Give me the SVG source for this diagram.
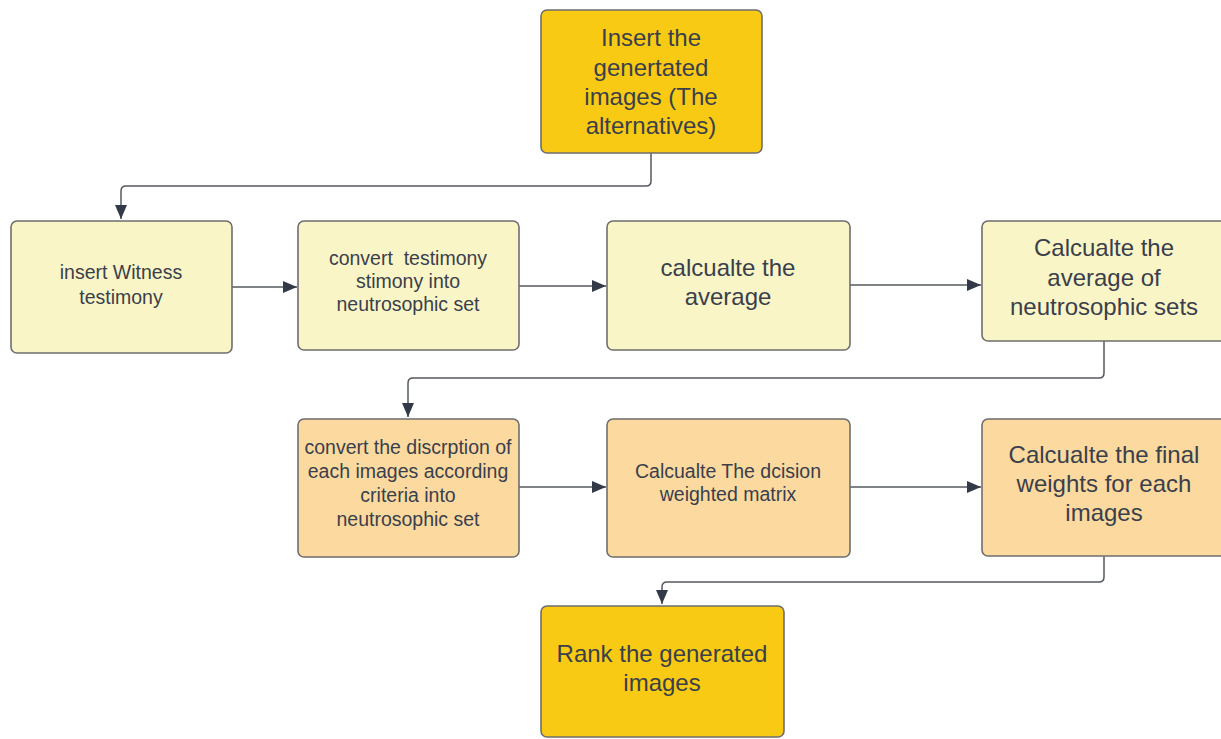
<svg xmlns="http://www.w3.org/2000/svg" width="1221" height="739" viewBox="0 0 1221 739">
<defs>
<marker id="arr" viewBox="0 0 14 12" refX="14" refY="6" markerWidth="14" markerHeight="12" markerUnits="userSpaceOnUse" orient="auto">
<path d="M0,0 L14,6 L0,12 Z" fill="#333a47"/>
</marker>
<style>
.box{stroke:#6e6e6e;stroke-width:1.6}
.gold{fill:#f9ca14}
.pale{fill:#faf5c6}
.orange{fill:#fcd99f}
.t{font-family:"Liberation Sans",Arial,sans-serif;fill:#3a3f4c;text-anchor:middle}
.s{font-size:19.5px}
.l{font-size:24px}
.c{fill:none;stroke:#55595f;stroke-width:1.5}
</style>
</defs>
<rect width="1221" height="739" fill="#ffffff"/>
<g id="connectors">
<path class="c" d="M651,153 V181 Q651,186 646,186 H126 Q121,186 121,191 V219" marker-end="url(#arr)"/>
<path class="c" d="M232,287 H297" marker-end="url(#arr)"/>
<path class="c" d="M519,286 H606" marker-end="url(#arr)"/>
<path class="c" d="M850,285 H981" marker-end="url(#arr)"/>
<path class="c" d="M1104,341 V373 Q1104,378 1099,378 H413 Q408,378 408,383 V417" marker-end="url(#arr)"/>
<path class="c" d="M519,487 H606" marker-end="url(#arr)"/>
<path class="c" d="M850,487 H981" marker-end="url(#arr)"/>
<path class="c" d="M1104,556 V577 Q1104,582 1099,582 H667 Q662,582 662,587 V604" marker-end="url(#arr)"/>
</g>
<g id="node-insert-images">
<rect class="box gold" x="541" y="10" width="221" height="143" rx="6"/>
<text class="t l" x="651" y="46">Insert the</text>
<text class="t l" x="651" y="76">genertated</text>
<text class="t l" x="651" y="105">images (The</text>
<text class="t l" x="651" y="134">alternatives)</text>
</g>
<g id="node-witness">
<rect class="box pale" x="11" y="221" width="221" height="132" rx="6"/>
<text class="t s" x="121" y="279">insert Witness</text>
<text class="t s" x="121" y="304">testimony</text>
</g>
<g id="node-convert-testimony">
<rect class="box pale" x="298" y="221" width="221" height="129" rx="6"/>
<text class="t s" x="408" y="265" xml:space="preserve">convert  testimony</text>
<text class="t s" x="408" y="288">stimony into</text>
<text class="t s" x="408" y="311">neutrosophic set</text>
</g>
<g id="node-average">
<rect class="box pale" x="607" y="221" width="243" height="129" rx="6"/>
<text class="t l" x="728" y="276">calcualte the</text>
<text class="t l" x="728" y="305">average</text>
</g>
<g id="node-average-ns">
<rect class="box pale" x="982" y="221" width="246" height="120" rx="6"/>
<text class="t l" x="1104" y="256">Calcualte the</text>
<text class="t l" x="1104" y="286">average of</text>
<text class="t l" x="1104" y="315">neutrosophic sets</text>
</g>
<g id="node-convert-description">
<rect class="box orange" x="298" y="419" width="221" height="138" rx="6"/>
<text class="t s" x="408" y="454">convert the discrption of</text>
<text class="t s" x="408" y="478">each images according</text>
<text class="t s" x="408" y="502">criteria into</text>
<text class="t s" x="408" y="526">neutrosophic set</text>
</g>
<g id="node-decision-matrix">
<rect class="box orange" x="607" y="419" width="243" height="138" rx="6"/>
<text class="t s" x="728" y="478">Calcualte The dcision</text>
<text class="t s" x="728" y="501">weighted matrix</text>
</g>
<g id="node-final-weights">
<rect class="box orange" x="982" y="419" width="246" height="137" rx="6"/>
<text class="t l" x="1104" y="463">Calcualte the final</text>
<text class="t l" x="1104" y="492">weights for each</text>
<text class="t l" x="1104" y="521">images</text>
</g>
<g id="node-rank">
<rect class="box gold" x="541" y="606" width="243" height="131" rx="6"/>
<text class="t l" x="662" y="662">Rank the generated</text>
<text class="t l" x="662" y="691">images</text>
</g>
</svg>
